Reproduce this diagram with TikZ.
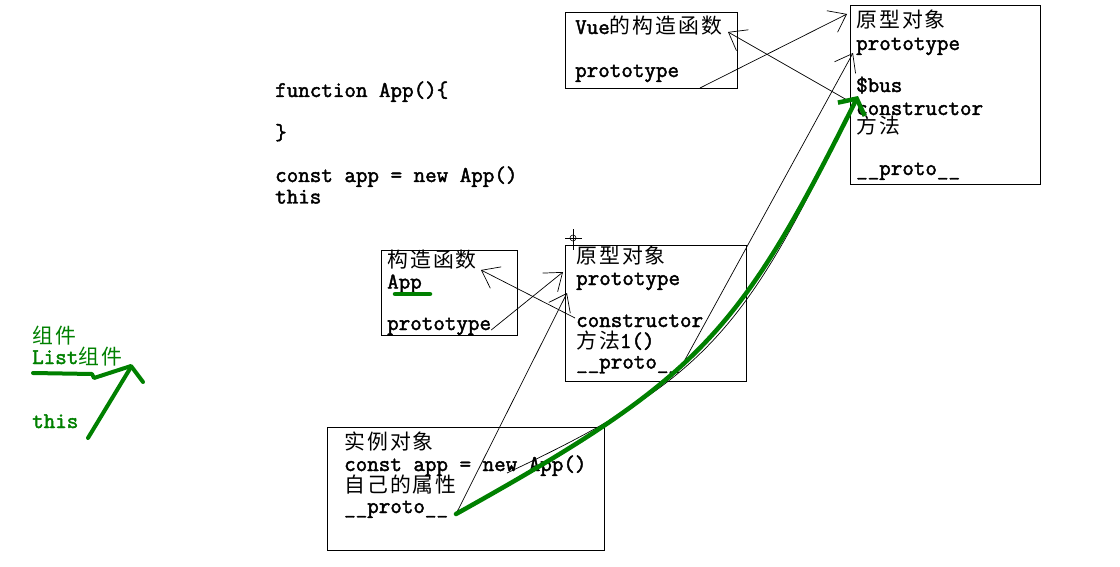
\documentclass[tikz,border=0pt]{standalone}
\usepackage{fontspec}
\usetikzlibrary{arrows.meta}
\newfontfamily\codefont[FakeBold=2]{Latin Modern Mono}
\newfontfamily\cjk[Scale=0.93,LetterSpace=10]{Noto Sans CJK SC}
\definecolor{pengreen}{RGB}{0,128,0}

\tikzset{
  panel/.style={draw, line width=0.8pt, anchor=north west, inner sep=0pt},
  txt/.style={anchor=base west, inner sep=0pt, font=\codefont\fontsize{22.4pt}{21.4pt}\selectfont},
  gtxt/.style={txt, text=pengreen},
  link/.style={line width=0.7pt, -{Straight Barb[length=16pt,width=24pt]}},
  greenpen/.style={draw=pengreen, line width=4.5pt, line cap=round, line join=round},
}

\begin{document}
\begin{tikzpicture}[x=1pt, y=-1pt]
            \useasboundingbox (0,0) rectangle (1120,567);
            % code on the left
            \node[txt] (fn) at (275,97) {function App()\{};
            \node[txt] (fnend) at (275,139.5) {\}};
            \node[txt] (fnnew) at (275,182) {const app = new App()};
            \node[txt] (fnthis) at (275,203.5) {this};
            % Vue constructor
            \node[panel, minimum width=172pt, minimum height=76pt] (vuebox) at (565,12) {};
            \node[txt] (vuetitle) at (575,34) {Vue{\cjk 的构造函数}};
            \node[txt] (vueproto) at (575,77) {prototype};
            % Vue prototype object
            \node[panel, minimum width=190pt, minimum height=179pt] (topbox) at (850,5) {};
            \node[txt] (ttitle) at (856,28) {{\cjk 原型对象}};
            \node[txt] (tproto) at (856,50) {prototype};
            \node[txt] (tbus) at (856,92) {\$bus};
            \node[txt] (tctor) at (856,115) {constructor};
            \node[txt] (tmeth) at (856,134) {{\cjk 方法}};
            \node[txt] (tdunder) at (856,175) {\_\_proto\_\_};
            % App constructor
            \node[panel, minimum width=136pt, minimum height=85pt] (appbox) at (381,250) {};
            \node[txt] (atitle) at (387,267) {{\cjk 构造函数}};
            \node[txt] (aname) at (387,288.5) {App};
            \node[txt] (aproto) at (387,330) {prototype};
            % App prototype object
            \node[panel, minimum width=181pt, minimum height=136pt] (midbox) at (565,245) {};
            \node[txt] (mtitle) at (576,263) {{\cjk 原型对象}};
            \node[txt] (mproto) at (576,285) {prototype};
            \node[txt] (mctor) at (576,327) {constructor};
            \node[txt] (mmeth) at (576,348) {{\cjk 方法}1()};
            \node[txt] (mdunder) at (576,368.5) {\_\_proto\_\_};
            % instance
            \node[panel, minimum width=277pt, minimum height=123pt] (instbox) at (327,427) {};
            \node[txt] (ititle) at (344,449) {{\cjk 实例对象}};
            \node[txt] (inew) at (344,471) {const app = new App()};
            \node[txt] (iown) at (344,492) {{\cjk 自己的属性}};
            \node[txt] (idunder) at (344,513) {\_\_proto\_\_};
            % green notes
            \node[gtxt] (gpart) at (32,343) {{\cjk 组件}};
            \node[gtxt] (glist) at (32,364) {List{\cjk 组件}};
            \node[gtxt] (gthis) at (32,428) {this};
            % connector ends
            \coordinate (vueout) at (700,88);
            \coordinate (topin) at (847,14);
            \coordinate (ctorout) at (847,100);
            \coordinate (vuein) at (728,32);
            \coordinate (tprotoin) at (853,53);
            \coordinate (mprotoin) at (563,272);
            \coordinate (mctorout) at (575,318);
            \coordinate (atitlein) at (481,270);
            \coordinate (iout) at (456,514);
            \coordinate (mprotoin2) at (567,293);
            \coordinate (busin) at (858,96);
            \coordinate (thinstart) at (507,473);
            \coordinate (thinend) at (825,163);
            % arrows
            \draw[link] (vueout) -- (topin);
            \draw[link] (ctorout) -- (vuein);
            \draw[link] (mdunder.base east) -- (tprotoin);
            \draw[link] (aproto.base east) -- (mprotoin);
            \draw[link] (mctorout) -- (atitlein);
            \draw[link] (iout) -- (mprotoin2);
            \draw[line width=0.7pt] (thinstart) .. controls (688,388) and (737,341) .. (thinend);
            \draw[greenpen, -{Straight Barb[length=12pt,width=30pt]}] (iout) .. controls (698,379) and (738,337) .. (busin);
            \draw[greenpen] (395,294) -- (430,294);
            \draw[greenpen, line width=4pt] (33,373) -- (92,374) -- (94,378) -- (131,366) -- (143,382);
            \draw[greenpen, line width=4pt] (88,438) -- (131,367);
            % cursor
            \draw[line width=0.6pt] (565,238) -- (582,238) (573,229) -- (573,250);
            \draw[line width=0.6pt] (573,238) circle (3);
\end{tikzpicture}
\end{document}
